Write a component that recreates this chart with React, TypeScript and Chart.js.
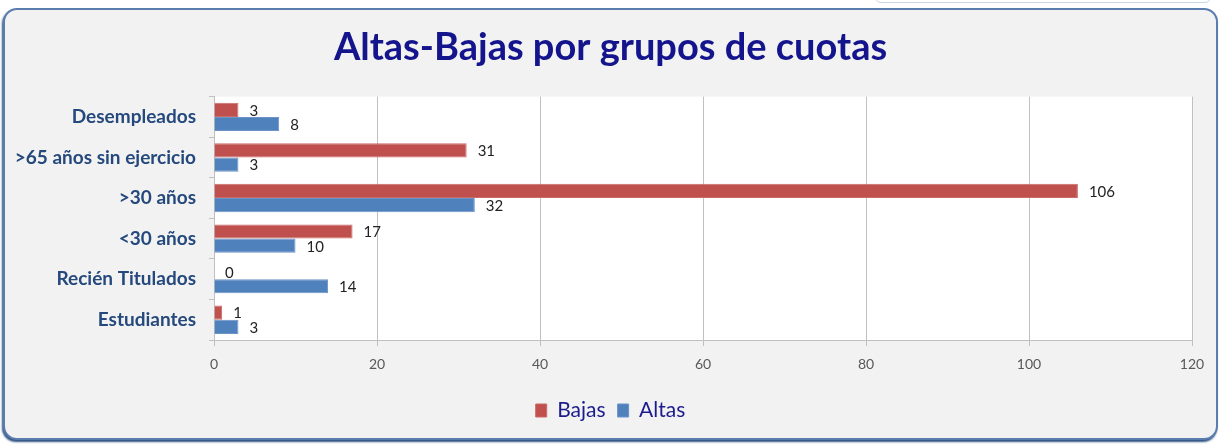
import React, { useEffect, useRef } from "react";
import { Chart, registerables } from "chart.js";

Chart.register(...registerables);

const categories = [
  "Desempleados",
  ">65 años sin ejercicio",
  ">30 años",
  "<30 años",
  "Recién Titulados",
  "Estudiantes",
];
const bajas = [3, 31, 106, 17, 0, 1];
const altas = [8, 3, 32, 10, 14, 3];
const xTicks = [0, 20, 40, 60, 80, 100, 120];

const FONT = "Lato, 'Open Sans', sans-serif";

const plotBg = {
  id: "plotBg",
  beforeDraw(chart: any) {
    const { ctx, chartArea } = chart;
    ctx.save();
    ctx.fillStyle = "#ffffff";
    ctx.fillRect(chartArea.left, chartArea.top, chartArea.right - chartArea.left, chartArea.bottom - chartArea.top);
    ctx.restore();
  },
};

const valueLabels = {
  id: "valueLabels",
  afterDatasetsDraw(chart: any) {
    const { ctx } = chart;
    ctx.save();
    ctx.font = `15px ${FONT}`;
    ctx.fillStyle = "#222222";
    ctx.textAlign = "left";
    ctx.textBaseline = "middle";
    chart.data.datasets.forEach((ds: any, di: number) => {
      const meta = chart.getDatasetMeta(di);
      meta.data.forEach((el: any, i: number) => {
        ctx.fillText(String(ds.data[i]), el.x + 11, el.y + 1);
      });
    });
    ctx.restore();
  },
};

export default function App() {
  const ref = useRef<HTMLCanvasElement>(null);
  useEffect(() => {
    document.body.style.margin = "0";
    const chart = new Chart(ref.current!, {
      type: "bar",
      data: {
        labels: categories,
        datasets: [
          { label: "Bajas", data: bajas, backgroundColor: "#c0504d", borderColor: "#c86a67", borderWidth: 1, categoryPercentage: 0.7, barPercentage: 1 },
          { label: "Altas", data: altas, backgroundColor: "#4f81bd", borderColor: "#6a93c6", borderWidth: 1, categoryPercentage: 0.7, barPercentage: 1 },
        ],
      },
      options: {
        indexAxis: "y",
        animation: false,
        responsive: false,
        maintainAspectRatio: false,
        layout: { padding: { top: 0, right: 0, bottom: 13, left: 0 } },
        plugins: {
          title: {
            display: true,
            text: "Altas-Bajas por grupos de cuotas",
            color: "#14148c",
            font: { family: FONT, size: 38, weight: "bold" },
            padding: { top: 25, bottom: 26 },
          },
          legend: {
            position: "bottom",
            labels: {
              color: "#1c1c8c",
              font: { family: FONT, size: 21 },
              boxWidth: 11,
              boxHeight: 13,
              padding: 12,
            },
          },
          tooltip: { enabled: false },
        },
        scales: {
          x: {
            min: 0,
            max: 120,
            afterBuildTicks: (s: any) => {
              s.ticks = xTicks.map((v) => ({ value: v }));
            },
            ticks: { color: "#595959", font: { family: FONT, size: 14 }, padding: 10 },
            grid: { color: "#c0c0c0", tickLength: 6 },
            border: { display: true, color: "#c0c0c0" },
            afterFit: (s: any) => {
              s.height = 48;
            },
          },
          y: {
            grid: { drawOnChartArea: false, color: "#c0c0c0", tickLength: 5, offset: true },
            border: { display: true, color: "#c0c0c0" },
            ticks: { color: "#25497c", font: { family: FONT, size: 19, weight: "bold" }, padding: 13 },
            afterFit: (s: any) => {
              s.width = 214;
            },
          },
          yRight: {
            type: "category",
            position: "right",
            grid: { display: false },
            border: { display: false },
            ticks: { display: false },
            afterFit: (s: any) => {
              s.width = 29;
            },
          },
        },
      },
      plugins: [plotBg, valueLabels],
    });
    return () => chart.destroy();
  }, []);

  return (
    <div style={{ position: "relative", width: 1221, height: 444, background: "#ffffff", overflow: "hidden" }}>
      <div
        style={{
          position: "absolute",
          left: 875,
          top: -12,
          width: 334,
          height: 13,
          border: "1px solid #c9d6e8",
          borderRadius: 6,
        }}
      />
      <div
        style={{
          position: "absolute",
          left: 3,
          top: 8,
          width: 1211,
          height: 428,
          background: "#f2f2f2",
          border: "2px solid #5a7db0",
          borderRadius: 14,
          boxShadow: "-1px 2px 2px #2f5283",
        }}
      />
      <canvas ref={ref} width={1221} height={444} style={{ position: "absolute", left: 0, top: 0 }} />
    </div>
  );
}
